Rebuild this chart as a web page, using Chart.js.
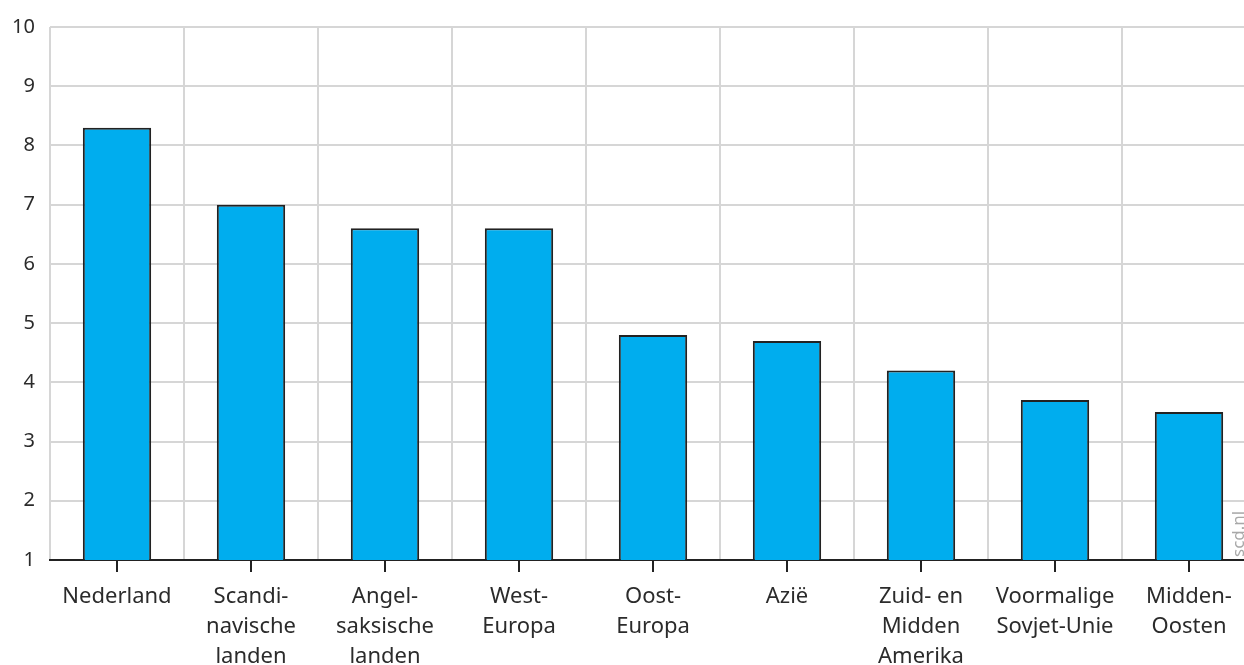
<!DOCTYPE html>
<html>
<head>
<meta charset="utf-8">
<script src="https://cdn.jsdelivr.net/npm/chart.js@4"></script>
<style>
    html, body { margin: 0; padding: 0; overflow: hidden; background: #fff; }
    #wrap { position: relative; width: 1256px; height: 665px; }
</style>
</head>
<body>
<div id="wrap"><canvas id="regionChart"></canvas></div>
<script>
// Region labels (multi-line, as in the original)
const categories = [
    ["Nederland"],
    ["Scandi-", "navische", "landen"],
    ["Angel-", "saksische", "landen"],
    ["West-", "Europa"],
    ["Oost-", "Europa"],
    ["Azië"],
    ["Zuid- en", "Midden", "Amerika"],
    ["Voormalige", "Sovjet-Unie"],
    ["Midden-", "Oosten"]
];
const values = [8.3, 7.0, 6.6, 6.6, 4.8, 4.7, 4.2, 3.7, 3.5];
const yTicks = [1, 2, 3, 4, 5, 6, 7, 8, 9, 10];

const FONT = "'Noto Sans', sans-serif";

// Small tick marks under the axis at the centre of every bar
const centreTicks = {
    id: "centreTicks",
    afterDraw(chart) {
        const ctx = chart.ctx;
        const x = chart.scales.x;
        const bottom = chart.chartArea.bottom;
        ctx.save();
        ctx.strokeStyle = "#222";
        ctx.lineWidth = 2;
        categories.forEach((c, i) => {
            const px = Math.round(x.getPixelForValue(i));
            ctx.beginPath();
            ctx.moveTo(px, bottom);
            ctx.lineTo(px, bottom + 12);
            ctx.stroke();
        });
        // source note
        ctx.translate(1239, 557);
        ctx.rotate(-Math.PI / 2);
        ctx.fillStyle = "#a8a8a8";
        ctx.font = "17px " + FONT;
        ctx.textAlign = "left";
        ctx.textBaseline = "middle";
        ctx.fillText("scd.nl", 0, 0);
        ctx.restore();
    }
};

const ctx = document.getElementById("regionChart").getContext("2d");
new Chart(ctx, {
    type: "bar",
    data: {
        labels: categories,
        datasets: [{
            data: values,
            backgroundColor: "#00adee",
            borderColor: "#222",
            borderWidth: 2,
            borderSkipped: "start",
            barPercentage: 0.51,
            categoryPercentage: 1.0
        }]
    },
    options: {
        responsive: true,
        maintainAspectRatio: false,
        animation: false,
        layout: { padding: { top: 25, right: 0, bottom: 0, left: 0 } },
        plugins: {
            legend: { display: false },
            tooltip: { enabled: false }
        },
        scales: {
            x: {
                grid: { color: "#d6d6d6", lineWidth: 2, drawTicks: false, offset: true },
                border: { color: "#222", width: 2 },
                ticks: {
                    color: "#2b2b2b",
                    font: { family: FONT, size: 22, lineHeight: 1.36 },
                    padding: 22,
                    maxRotation: 0,
                    autoSkip: false
                },
                afterFit(scale) { scale.height = 105; }
            },
            y: {
                min: 1,
                max: 10,
                afterBuildTicks(scale) {
                    scale.ticks = yTicks.map(v => ({ value: v }));
                },
                grid: { color: "#d6d6d6", lineWidth: 2, drawTicks: false },
                border: { display: false },
                ticks: {
                    color: "#2b2b2b",
                    font: { family: FONT, size: 20 },
                    padding: 15
                },
                afterFit(scale) { scale.width = 50; }
            }
        }
    },
    plugins: [centreTicks]
});
</script>
</body>
</html>
